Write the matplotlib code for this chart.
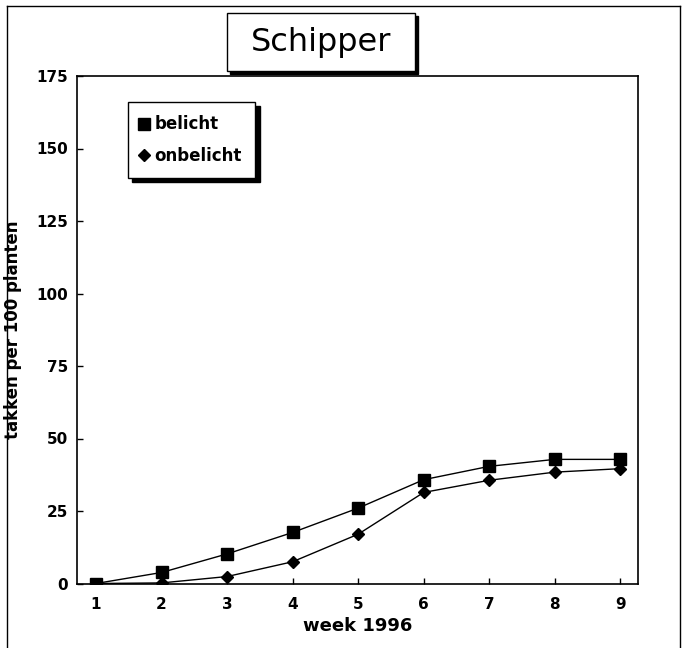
import matplotlib
matplotlib.use("Agg")
import matplotlib.pyplot as plt
from matplotlib.patches import Rectangle
from matplotlib.lines import Line2D

weeks = [1, 2, 3, 4, 5, 6, 7, 8, 9]
belicht = [0, 3.8, 10.2, 17.6, 26.0, 35.8, 40.4, 42.8, 42.8]
onbelicht = [0, 0.2, 2.4, 7.5, 17.0, 31.4, 35.6, 38.4, 39.6]
yticks = [0, 25, 50, 75, 100, 125, 150, 175]
title = "Schipper"
xlabel = "week 1996"
ylabel = "takken per 100 planten"
series_names = ["belicht", "onbelicht"]

W, H = 683, 648
plt.rcParams['font.family'] = ['DejaVu Sans']
fig = plt.figure(figsize=(W / 100, H / 100), dpi=100)

def fx(px):
    return px / W

def fy(py):
    return 1 - py / H

ax = fig.add_axes([fx(77), fy(583.5), fx(638) - fx(77), fy(76) - fy(583.5)])

ax.plot(weeks, onbelicht, color='black', lw=1.0, marker='D', ms=6.5,
        markerfacecolor='black', markeredgecolor='black', label=series_names[1], zorder=3)
ax.plot(weeks, belicht, color='black', lw=1.0, marker='s', ms=9,
        markerfacecolor='black', markeredgecolor='black', label=series_names[0], zorder=4)

ax.set_xlim(0.71, 9.27)
ax.set_ylim(0, 175)
ax.set_xticks(weeks)
ax.set_yticks(yticks)
ax.tick_params(axis='both', direction='in', length=4, width=1, color='black')
ax.tick_params(axis='y', pad=6.5, labelsize=11)
ax.tick_params(axis='x', pad=10, labelsize=11)
for lab in ax.get_xticklabels() + ax.get_yticklabels():
    lab.set_fontweight('bold')
for sp in ax.spines.values():
    sp.set_linewidth(1.2)
    sp.set_color('black')

ax.set_xlabel(xlabel, fontsize=13, fontweight='bold', labelpad=3)
ax.set_ylabel(ylabel, fontsize=12, fontweight='bold', labelpad=10)

# legend (marker-only entries)
handles, labels = ax.get_legend_handles_labels()
order = [1, 0]
leg = fig.legend([handles[i] for i in order], [labels[i] for i in order],
                 loc='upper left', bbox_to_anchor=(fx(128), fy(102)),
                 bbox_transform=fig.transFigure, borderaxespad=0,
                 prop={'weight': 'bold', 'size': 12}, frameon=True, fancybox=False,
                 framealpha=1, edgecolor='black', handlelength=0.3, handletextpad=0.5,
                 labelspacing=0.8, borderpad=0.8, numpoints=1,
                 shadow={'color': 'black', 'alpha': 1, 'ox': 3, 'oy': -3})
leg.get_frame().set_linewidth(1.0)
for h in leg.legend_handles:
    h.set_linestyle('none')

# title box with shadow
tb_x0, tb_y0, tb_x1, tb_y1 = 227, 13, 415, 71
fig.patches.append(Rectangle((fx(tb_x0 + 3), fy(tb_y1 + 3)), fx(tb_x1) - fx(tb_x0),
                             fy(tb_y0) - fy(tb_y1), transform=fig.transFigure,
                             facecolor='black', edgecolor='black', zorder=1))
fig.patches.append(Rectangle((fx(tb_x0), fy(tb_y1)), fx(tb_x1) - fx(tb_x0),
                             fy(tb_y0) - fy(tb_y1), transform=fig.transFigure,
                             facecolor='white', edgecolor='black', lw=1.0, zorder=2))
fig.text(fx((tb_x0 + tb_x1) / 2), fy(42), title, fontsize=23, ha='center', va='center',
         zorder=3)

# outer frame
frame_kw = dict(color='black', lw=1.0, transform=fig.transFigure)
fig.lines.append(Line2D([fx(7), fx(7)], [fy(6), fy(650)], **frame_kw))
fig.lines.append(Line2D([fx(7), fx(680)], [fy(6), fy(6)], **frame_kw))
fig.lines.append(Line2D([fx(680), fx(680)], [fy(6), fy(650)], **frame_kw))

fig.savefig("out.png", dpi=100)
